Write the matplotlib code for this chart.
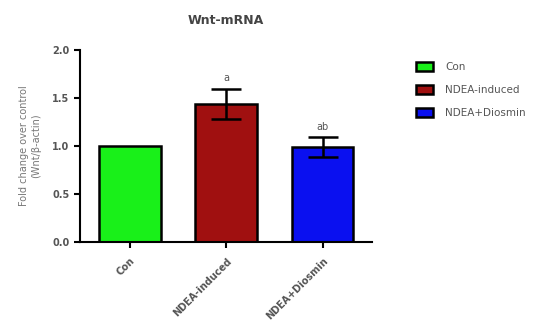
import matplotlib.pyplot as plt
import numpy as np

groups = ['Con', 'NDEA-induced', 'NDEA+Diosmin']
means = [1.0, 1.44, 0.99]
errs = [0.0, 0.16, 0.10]
colors = ['#19f019', '#a01010', '#0a10f0']
letters = ['', 'a', 'ab']

plt.rcParams['font.family'] = 'DejaVu Sans'
fig = plt.figure(figsize=(5.54, 3.34), dpi=100)
ax = fig.add_axes([0.144, 0.275, 0.527, 0.575])

x = np.arange(len(groups))
bars = ax.bar(x, means, width=0.64, color=colors, edgecolor='black', linewidth=1.8,
              label=groups)
ax.errorbar(x[1:], means[1:], yerr=errs[1:], fmt='none', ecolor='black',
            elinewidth=1.8, capsize=11, capthick=1.8)
for xi, m, e, t in zip(x, means, errs, letters):
    if t:
        ax.text(xi, m + e + 0.06, t, ha='center', va='bottom', fontsize=7, color='#555555')

ax.set_xlim(-0.52, 2.51)
ax.set_ylim(0, 2.0)
ax.set_yticks([0, 0.5, 1.0, 1.5, 2.0])
ax.set_yticklabels(['0.0', '0.5', '1.0', '1.5', '2.0'])
ax.set_xticks(x)
ax.set_xticklabels(groups, rotation=45, ha='right', rotation_mode='anchor')
ax.tick_params(axis='both', colors='black', width=1.5, length=4, labelcolor='#555555',
               labelsize=7)
ax.tick_params(axis='x', pad=6)
for lbl in ax.get_xticklabels() + ax.get_yticklabels():
    lbl.set_fontweight('bold')
ax.spines['top'].set_visible(False)
ax.spines['right'].set_visible(False)
ax.spines['left'].set_linewidth(1.5)
ax.spines['bottom'].set_linewidth(1.5)

ax.set_ylabel('Fold change over control\n(Wnt/β-actin)', fontsize=7, color='#777777',
              labelpad=8)
ax.set_title('Wnt-mRNA', fontsize=9, fontweight='semibold', color='#444444', pad=19)

leg = ax.legend(handles=list(bars), labels=groups, loc='upper left',
                bbox_to_anchor=(1.12, 0.985), frameon=False, fontsize=7.5,
                handlelength=1.6, handleheight=0.9, labelspacing=1.25, handletextpad=1.2)
for t in leg.get_texts():
    t.set_color('#555555')

fig.savefig('out.png', dpi=100)
